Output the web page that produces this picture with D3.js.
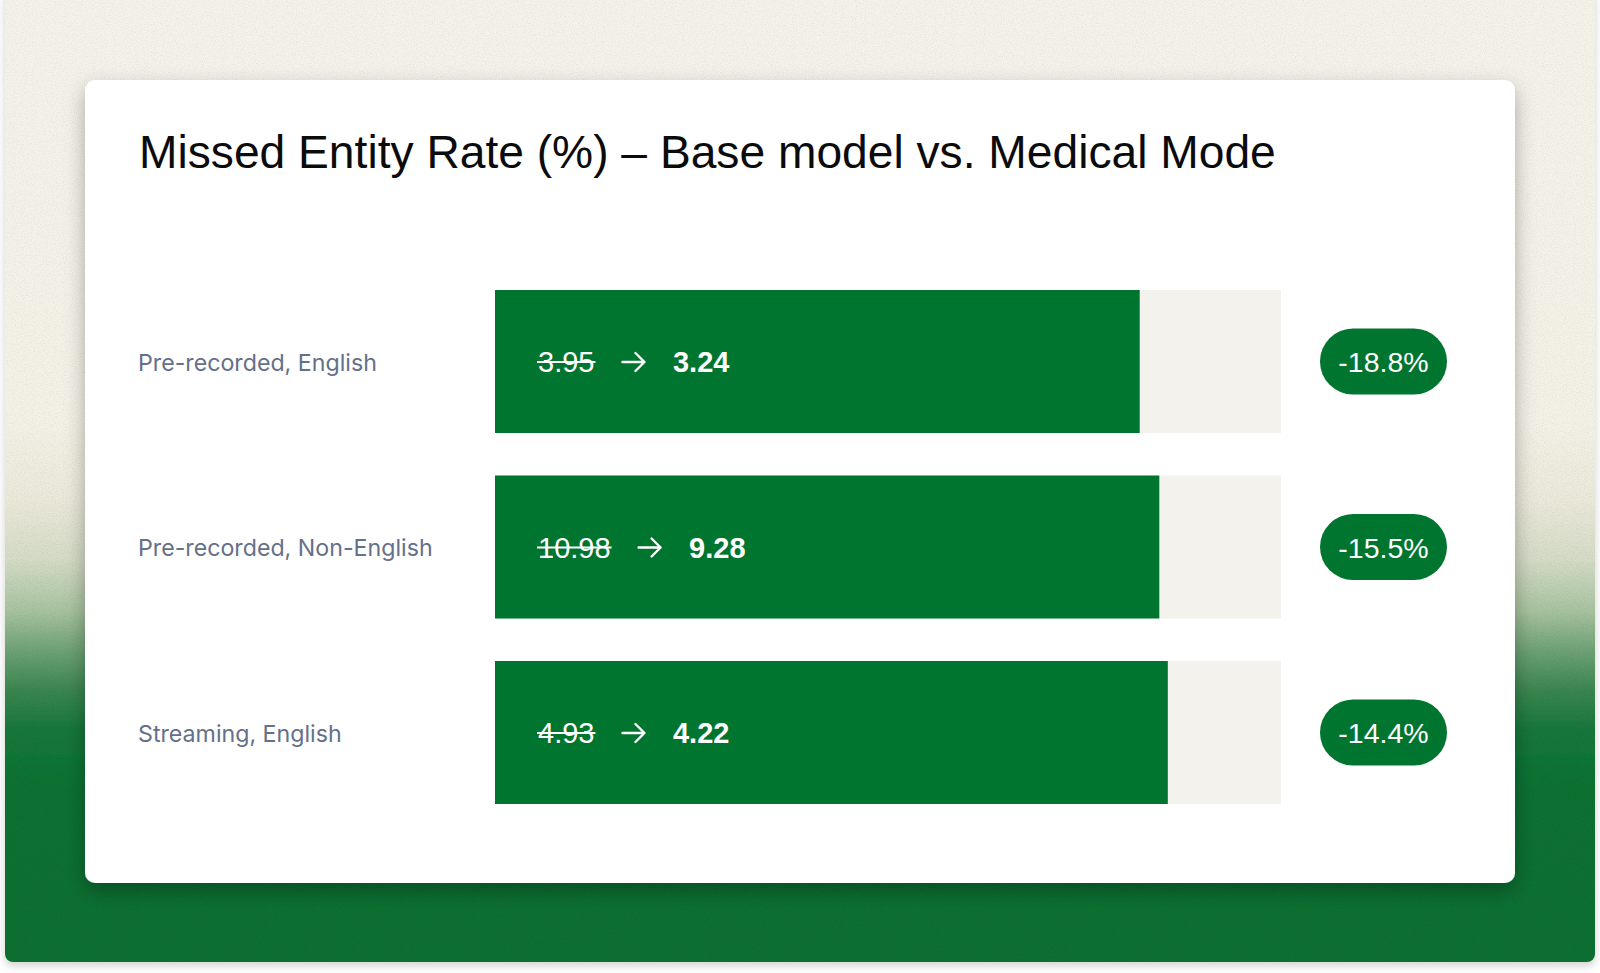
<!DOCTYPE html>
<html><head><meta charset="utf-8">
<script src="https://cdn.jsdelivr.net/npm/d3@7"></script>
<style>html,body{margin:0;padding:0;background:#fff;overflow:hidden}</style>
</head><body>
<svg id="chart" width="1600" height="973"></svg>
<script>
const title = "Missed Entity Rate (%) – Base model vs. Medical Mode";
const categories = ["Pre-recorded, English", "Pre-recorded, Non-English", "Streaming, English"];
const baseValues = [3.95, 10.98, 4.93];
const medicalValues = [3.24, 9.28, 4.22];
const changeLabels = ["-18.8%", "-15.5%", "-14.4%"];

const data = categories.map((c, i) => ({cat: c, base: baseValues[i], med: medicalValues[i], change: changeLabels[i]}));

const svg = d3.select("#chart");
const defs = svg.append("defs");

const GREEN = "#00752f";
const FONT = "'Liberation Sans', Arial, Helvetica, sans-serif";

// background gradient
const bg = defs.append("linearGradient").attr("id", "bgGrad")
  .attr("gradientUnits", "userSpaceOnUse").attr("x1", 0).attr("y1", 0).attr("x2", 0).attr("y2", 962);
[[0, "#f5f2ea"], [420, "#f4f1e7"], [500, "#ebe9da"], [560, "#d4dbc6"], [610, "#a9c3a0"],
 [650, "#6fa276"], [690, "#3b8650"], [730, "#17773b"], [790, "#0a7131"], [962, "#087030"]]
  .forEach(([o, c]) => bg.append("stop").attr("offset", o / 962).attr("stop-color", c));

// grain
const grain = defs.append("filter").attr("id", "grain").attr("x", 0).attr("y", 0).attr("width", 1).attr("height", 1);
grain.append("feTurbulence").attr("type", "fractalNoise").attr("baseFrequency", 0.9).attr("numOctaves", 2).attr("seed", 3).attr("result", "noise");
grain.append("feColorMatrix").attr("in", "noise").attr("type", "matrix")
  .attr("values", "0 0 0 0 0  0 0 0 0 0  0 0 0 0 0  0 0 0 -2.2 1.3").attr("result", "alphaNoise");
grain.append("feComposite").attr("in", "alphaNoise").attr("in2", "SourceGraphic").attr("operator", "in");

const outerShadow = defs.append("filter").attr("id", "outerShadow").attr("x", -0.05).attr("y", -0.05).attr("width", 1.1).attr("height", 1.1);
outerShadow.append("feDropShadow").attr("dx", 0).attr("dy", 4).attr("stdDeviation", 4).attr("flood-color", "#000").attr("flood-opacity", 0.18);

const cardShadow = defs.append("filter").attr("id", "cardShadow").attr("x", -0.05).attr("y", -0.05).attr("width", 1.1).attr("height", 1.15);
cardShadow.append("feDropShadow").attr("dx", 0).attr("dy", 8).attr("stdDeviation", 10).attr("flood-color", "#000").attr("flood-opacity", 0.3);

svg.append("rect").attr("x", 5).attr("y", -12).attr("width", 1590).attr("height", 974).attr("rx", 8)
  .attr("fill", "url(#bgGrad)").attr("filter", "url(#outerShadow)");
svg.append("rect").attr("x", 5).attr("y", -12).attr("width", 1590).attr("height", 974).attr("rx", 8)
  .attr("fill", "#000").attr("opacity", 0.05).attr("filter", "url(#grain)");

// card
svg.append("rect").attr("x", 85).attr("y", 80).attr("width", 1430).attr("height", 803).attr("rx", 10)
  .attr("fill", "#fff").attr("filter", "url(#cardShadow)");

// title
const titleEl = svg.append("text").attr("x", 139).attr("y", 168)
  .attr("font-family", FONT).attr("font-size", 45).attr("fill", "#0b0b0b").text(title);
const tw = titleEl.node().getComputedTextLength();
titleEl.attr("font-size", 45 * 1137 / tw);

// scales
const x = d3.scaleLinear().domain([0, 1]).range([495, 1281]);
const y = d3.scaleBand().domain(categories).range([290, 804]).paddingInner(42.5 / 185.5).paddingOuter(0);

const rows = svg.append("g").selectAll("g").data(data).join("g");

rows.append("rect").attr("x", x(0)).attr("y", d => y(d.cat))
  .attr("width", x(1) - x(0)).attr("height", y.bandwidth()).attr("fill", "#f4f2ec");
rows.append("rect").attr("x", x(0)).attr("y", d => y(d.cat))
  .attr("width", d => x(d.med / d.base) - x(0)).attr("height", y.bandwidth()).attr("fill", GREEN);

const cy = d => y(d.cat) + y.bandwidth() / 2;

// category labels
rows.append("text").attr("x", 138).attr("y", d => cy(d) + 9)
  .attr("font-family", "Inter, 'Liberation Sans', sans-serif").attr("font-size", 23.2).attr("fill", "#64708a")
  .text(d => d.cat);

// values inside bars
rows.each(function(d) {
  const g = d3.select(this);
  const base = cy(d) + 10.5;
  const oldT = g.append("text").attr("x", x(0) + 43).attr("y", base)
    .attr("font-family", FONT).attr("font-size", 29).attr("fill", "#fff").text(d3.format(".2f")(d.base));
  const ow = oldT.node().getComputedTextLength();
  g.append("line").attr("x1", x(0) + 42).attr("x2", x(0) + 44 + ow)
    .attr("y1", cy(d) + 0.5).attr("y2", cy(d) + 0.5).attr("stroke", "#fff").attr("stroke-width", 2);
  const ax = x(0) + 43 + ow + 28;
  const ay = cy(d) + 0.5;
  g.append("path")
    .attr("d", `M${ax},${ay} H${ax + 22} M${ax + 13},${ay - 9} L${ax + 22},${ay} L${ax + 13},${ay + 9}`)
    .attr("fill", "none").attr("stroke", "#fff").attr("stroke-width", 2.4)
    .attr("stroke-linecap", "round").attr("stroke-linejoin", "round");
  g.append("text").attr("x", ax + 23 + 27.5).attr("y", base)
    .attr("font-family", FONT).attr("font-size", 29).attr("font-weight", "bold").attr("fill", "#fff")
    .text(d3.format(".2f")(d.med));
});

// badges
const bx = 1383.5;
rows.append("rect").attr("x", bx - 63.5).attr("y", d => cy(d) - 33).attr("width", 127).attr("height", 66)
  .attr("rx", 33).attr("fill", GREEN);
rows.append("text").attr("x", bx).attr("y", d => cy(d) + 10.5).attr("text-anchor", "middle")
  .attr("font-family", FONT).attr("font-size", 28.5).attr("fill", "#fff").text(d => d.change);
</script>
</body></html>
